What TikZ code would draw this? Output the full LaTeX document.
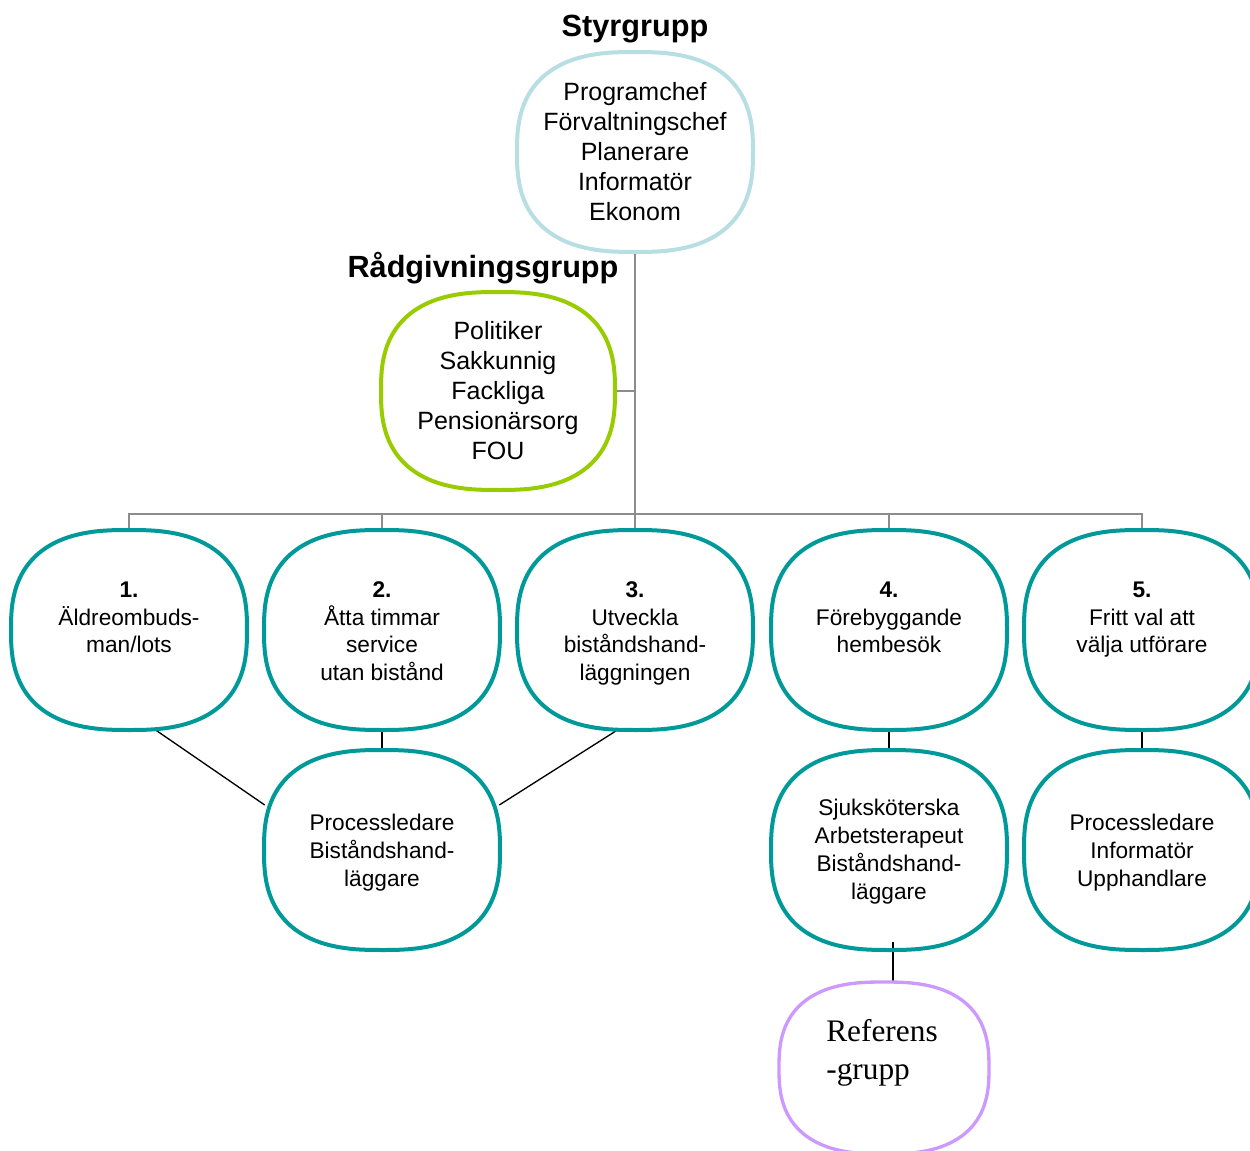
\documentclass[tikz,border=0pt]{standalone}
\usepackage{fontspec}
\setmainfont{Liberation Sans}
\newfontfamily\timesf{Liberation Serif}
\usetikzlibrary{calc}
\definecolor{tealc}{RGB}{0,153,153}
\definecolor{lblue}{RGB}{183,222,226}
\definecolor{lgreen}{RGB}{153,204,0}
\definecolor{lpurple}{RGB}{204,153,255}
\definecolor{treegrey}{RGB}{140,140,140}
% superellipse outline round a node: #1 style, #2 node, #3 half width, #4 half height, #5 exponent
\newcommand\sellipse[5]{%
  \draw[#1, shift={(#2.center)}] plot[domain=0.5:358.5, samples=180, smooth cycle, variable=\t]
    ({#3*(cos(\t)/abs(cos(\t)))*exp((2/#5)*ln(abs(cos(\t))))},
     {#4*(sin(\t)/abs(sin(\t)))*exp((2/#5)*ln(abs(sin(\t))))});}
\tikzset{
  box/.style={draw=none, minimum width=177pt, minimum height=150pt, inner sep=0pt,
    align=center, font=\fontsize{17}{21}\selectfont},
  bigbox/.style={box, font=\fontsize{18.75}{22.5}\selectfont},
  toptext/.style={anchor=north, inner sep=0pt, align=center, font=\fontsize{17}{20.6}\selectfont},
  titletext/.style={inner sep=0pt, font=\fontsize{23}{27}\selectfont\bfseries},
  reftext/.style={inner sep=0pt, align=left, font=\timesf\fontsize{23.5}{29}\selectfont},
  tree/.style={draw=treegrey, line width=1.5pt},
  conn/.style={draw=black, line width=1pt},
  tealline/.style={draw=tealc, line width=3pt},
}
\begin{document}
\begin{tikzpicture}[x=0.75pt, y=0.75pt]
\useasboundingbox (0,0) rectangle (1250,-1150);
\clip (0,0) rectangle (1250,-1150);

% titles
\node[titletext] (styrt) at (635,-29) {Styrgrupp};
\node[titletext] (radt) at (483,-268) {Rådgivningsgrupp};

% top groups
\node[bigbox] (styr) at (635,-152) {Programchef\\Förvaltningschef\\Planerare\\Informatör\\Ekonom};
\node[bigbox, minimum width=175.5pt, minimum height=148.5pt] (rad) at (498,-391) {Politiker\\Sakkunnig\\Fackliga\\Pensionärsorg\\FOU};

% first row
\node[box] (n1) at (129,-630) {};
\node[box] (n2) at (382,-630) {};
\node[box] (n3) at (635,-630) {};
\node[box] (n4) at (889,-630) {};
\node[box] (n5) at (1142,-630) {};
\node[toptext] (t1) at ($(n1.north)+(0,-52)$) {\textbf{1.}\\Äldreombuds-\\man/lots};
\node[toptext] (t2) at ($(n2.north)+(0,-52)$) {\textbf{2.}\\Åtta timmar\\service\\utan bistånd};
\node[toptext] (t3) at ($(n3.north)+(0,-52)$) {\textbf{3.}\\Utveckla\\biståndshand-\\läggningen};
\node[toptext] (t4) at ($(n4.north)+(0,-52)$) {\textbf{4.}\\Förebyggande\\hembesök};
\node[toptext] (t5) at ($(n5.north)+(0,-52)$) {\textbf{5.}\\Fritt val att\\välja utförare};

% second row
\node[box] (proc) at (382,-850) {};
\node[box] (sjuk) at (889,-850) {};
\node[box] (p5) at (1142,-850) {};
\node[box, minimum width=0pt, minimum height=0pt] (proct) at ($(proc.center)+(0,-3)$) {Processledare\\Biståndshand-\\läggare};
\node[box, minimum width=0pt, minimum height=0pt] (sjukt) at ($(sjuk.center)+(0,-2)$) {Sjuksköterska\\Arbetsterapeut\\Biståndshand-\\läggare};
\node[box, minimum width=0pt, minimum height=0pt] (p5t) at ($(p5.center)+(0,-3)$) {Processledare\\Informatör\\Upphandlare};

% reference group
\node[box, minimum width=157.5pt, minimum height=129pt] (ref) at (884,-1068) {};
\node[reftext] (reft) at (882,-1053) {Referens\\-grupp};

% grey tree connectors
\draw[tree] (styr.south) -- (n3.north);
\draw[tree] (rad.east) -- (rad.east -| styr.south);
\draw[tree] (n1.north) -- ++(0,16) -| (n5.north);
\draw[tree] (n2.north) -- ++(0,16);
\draw[tree] (n4.north) -- ++(0,16);

% black connectors
\draw[conn] ($(n1.south)+(27,0)$) -- ($(proc.west)+(1,45)$);
\draw[conn] ($(n3.south)+(-18,0)$) -- ($(proc.east)+(-1,45)$);
\draw[conn] (n2.south) -- (proc.north);
\draw[conn] (n4.south) -- (sjuk.north);
\draw[conn] (n5.south) -- (p5.north);
\draw[conn] ($(sjuk.south)+(4,8)$) -- ($(ref.north)+(9,0)$);

% shapes
\sellipse{draw=lblue, line width=3pt}{styr}{118}{100}{2.6}
\sellipse{draw=lgreen, line width=3pt}{rad}{117}{99}{2.6}
\sellipse{tealline}{n1}{118}{100}{2.6}
\sellipse{tealline}{n2}{118}{100}{2.6}
\sellipse{tealline}{n3}{118}{100}{2.6}
\sellipse{tealline}{n4}{118}{100}{2.6}
\sellipse{tealline}{n5}{118}{100}{2.6}
\sellipse{tealline}{proc}{118}{100}{2.6}
\sellipse{tealline}{sjuk}{118}{100}{2.6}
\sellipse{tealline}{p5}{118}{100}{2.6}
\sellipse{draw=lpurple, line width=2.5pt}{ref}{105}{86}{2.6}
\end{tikzpicture}
\end{document}
